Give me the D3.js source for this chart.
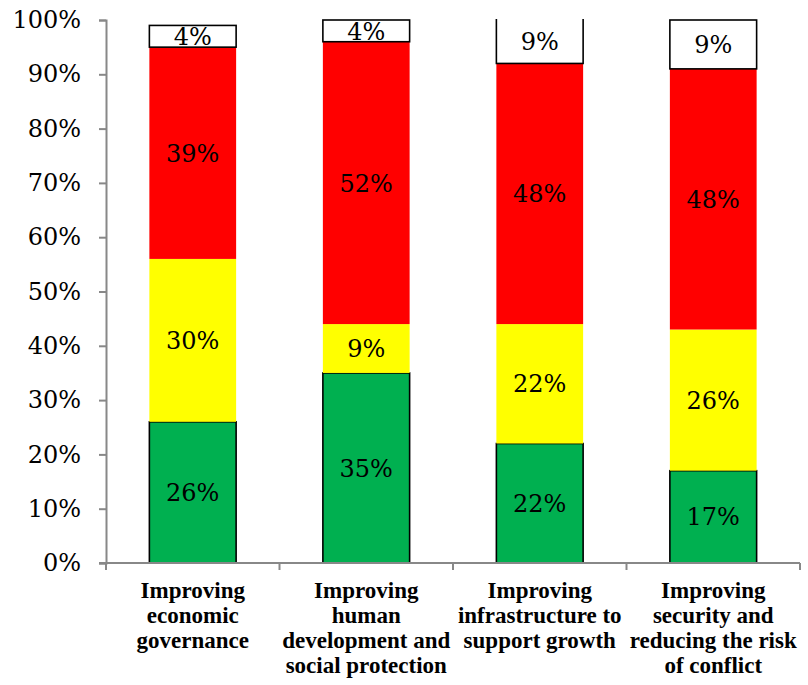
<!DOCTYPE html>
<html><head><meta charset="utf-8">
<script src="https://cdn.jsdelivr.net/npm/d3@7"></script>
<style>body{margin:0;background:#fff}svg{display:block}</style>
</head><body>
<svg id="c" width="808" height="685"></svg>
<script>
const categories = [
  ["Improving","economic","governance"],
  ["Improving","human","development and","social protection"],
  ["Improving","infrastructure to","support growth"],
  ["Improving","security and","reducing the risk","of conflict"]
];
const green  = [26, 35, 22, 17];
const yellow = [30, 9, 22, 26];
const red    = [39, 52, 48, 48];
const white  = [4, 4, 9, 9];
const yTicks = [0,10,20,30,40,50,60,70,80,90,100];

const seriesNames = ["green","yellow","red","white"];
const seriesVals = [green, yellow, red, white];
const fills = {green:"#00B050", yellow:"#FFFF00", red:"#FF0000", white:"#FFFFFF"};
const strokes = {green:"#000", yellow:"none", red:"none", white:"#000"};

const svg = d3.select("#c");
const L = 106, R = 800, T = 20, B = 563;
const x = d3.scaleBand().domain(d3.range(categories.length)).range([L, R]).paddingInner(0.5).paddingOuter(0.25);
const xb = d3.scaleBand().domain(d3.range(categories.length)).range([L, R]);
const y = d3.scaleLinear().domain([0, 100]).range([B, T]);

const rows = d3.range(categories.length).map(i => {
  const o = {i};
  seriesNames.forEach((s, k) => o[s] = seriesVals[k][i]);
  return o;
});
const stacked = d3.stack().keys(seriesNames)(rows);

svg.append("clipPath").attr("id","clip").append("rect")
  .attr("x", L).attr("y", T - 1).attr("width", R - L).attr("height", B - T + 3);

const g = svg.append("g").attr("clip-path","url(#clip)");
stacked.forEach(layer => {
  const key = layer.key;
  g.selectAll(null).data(layer).enter().append("rect")
    .attr("x", d => x(d.data.i))
    .attr("width", x.bandwidth())
    .attr("y", d => y(d[1]))
    .attr("height", d => y(d[0]) - y(d[1]))
    .attr("fill", fills[key])
    .attr("stroke", strokes[key])
    .attr("stroke-width", 1.6);
});

// value labels
stacked.forEach(layer => {
  svg.selectAll(null).data(layer).enter().append("text")
    .attr("x", d => x(d.data.i) + x.bandwidth() / 2)
    .attr("y", d => y((d[0] + Math.min(d[1], 100)) / 2))
    .attr("dy", "0.36em")
    .attr("text-anchor", "middle")
    .attr("font-family", "DejaVu Serif, serif")
    .attr("font-size", 24)
    .attr("fill", "#000")
    .text(d => (d[1] - d[0]) + "%");
});

// y axis
const yAxis = svg.append("g").attr("transform", `translate(${L},0)`)
  .call(d3.axisLeft(y).tickValues(yTicks).tickSize(7).tickPadding(18).tickFormat(d => d + "%"));
yAxis.select(".domain").attr("stroke", "#888").attr("stroke-width", 2);
yAxis.selectAll(".tick line").attr("stroke", "#888").attr("stroke-width", 2);
yAxis.selectAll(".tick text").attr("font-family", "DejaVu Serif, serif").attr("font-size", 24).attr("fill", "#000");

// x axis
const xAxisG = svg.append("g");
xAxisG.append("line").attr("x1", L - 7).attr("x2", R).attr("y1", B).attr("y2", B)
  .attr("stroke", "#888").attr("stroke-width", 2);
const bounds = d3.range(categories.length).map(i => xb(i)).concat([R]);
xAxisG.selectAll(null).data(bounds).enter().append("line")
  .attr("x1", d => d).attr("x2", d => d).attr("y1", B).attr("y2", B + 7)
  .attr("stroke", "#888").attr("stroke-width", 2);

const lab = svg.append("g");
categories.forEach((lines, i) => {
  const t = lab.append("text")
    .attr("x", xb(i) + xb.bandwidth() / 2)
    .attr("y", 598)
    .attr("text-anchor", "middle")
    .attr("font-family", "Liberation Serif, serif")
    .attr("font-weight", "bold")
    .attr("font-size", 23)
    .attr("fill", "#000");
  lines.forEach((ln, k) => {
    t.append("tspan").attr("x", xb(i) + xb.bandwidth() / 2).attr("y", 598 + k * 25).text(ln);
  });
});
</script>
</body></html>
